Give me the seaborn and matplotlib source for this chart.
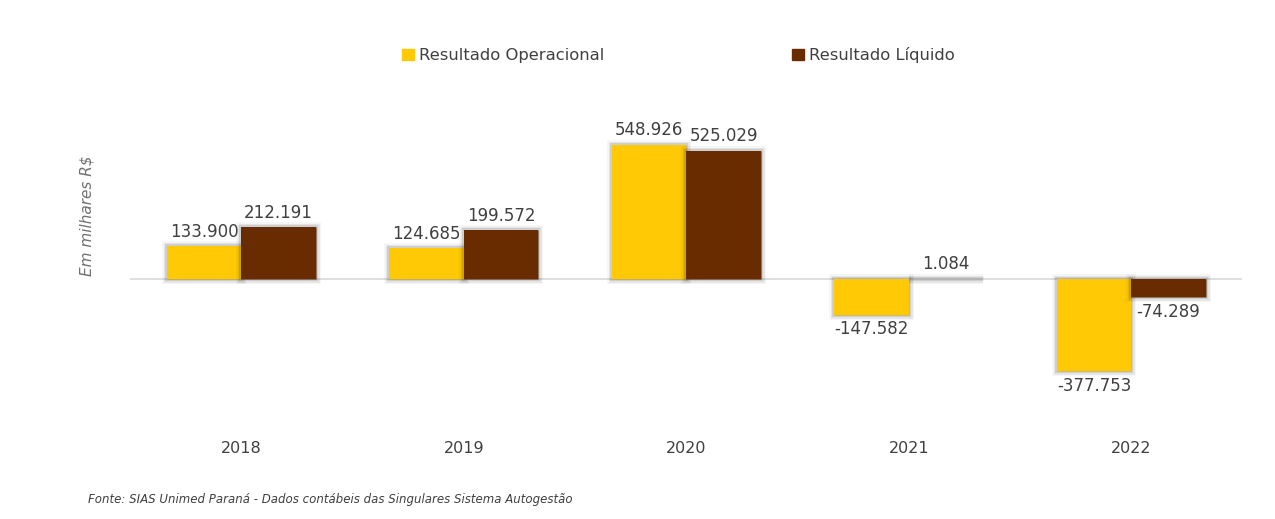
import pandas as pd
import matplotlib
matplotlib.use("Agg")
import matplotlib.pyplot as plt
import matplotlib.patheffects as pe
import seaborn as sns

anos = ["2018", "2019", "2020", "2021", "2022"]
operacional = [133900, 124685, 548926, -147582, -377753]
liquido = [212191, 199572, 525029, 1084, -74289]
series = ["Resultado Operacional", "Resultado Líquido"]
cores = ["#FFC905", "#692C00"]

df = pd.DataFrame({
    "Ano": anos * 2,
    "Valor": operacional + liquido,
    "Serie": [series[0]] * len(anos) + [series[1]] * len(anos),
})

sns.set_theme(style="white")
plt.rcParams["font.family"] = ["DejaVu Sans"]
texto = "#404040"

fig = plt.figure(figsize=(12.75, 5.19), dpi=100)
ax = fig.add_axes([0.102, 0.1715, 0.8725, 0.636])

sns.barplot(data=df, x="Ano", y="Valor", hue="Serie", palette=cores,
            width=0.67, gap=0, saturation=1, ax=ax, legend=False)

# sombra suave em volta das barras
sombra = [pe.Stroke(linewidth=7, foreground=(0, 0, 0, 0.04)),
          pe.Stroke(linewidth=5, foreground=(0, 0, 0, 0.06)),
          pe.Stroke(linewidth=3, foreground=(0, 0, 0, 0.10)),
          pe.Normal()]
for bar in ax.patches:
    bar.set_path_effects(sombra)
    bar.set_linewidth(0)

for cont in ax.containers:
    ax.bar_label(cont, labels=[f"{int(v):,}".replace(",", ".") for v in cont.datavalues],
                 padding=4, fontsize=12, color=texto)

ax.axhline(0, color="#D9D9D9", lw=1.2, zorder=0)
ax.set_xlim(-0.5, 4.5)
ax.set_ylim(-619000, 733000)
ax.set_yticks([])
ax.set_xlabel("")
ax.set_ylabel("Em milhares R$", fontsize=11, style="italic", color="#707070")
ax.yaxis.set_label_coords(-0.032, 0.65)
ax.tick_params(axis="x", length=0, pad=8, labelsize=11.5, labelcolor=texto)
for s in ax.spines.values():
    s.set_visible(False)

handles = [plt.Rectangle((0, 0), 1, 1, color=c) for c in cores]
fig.legend(handles, series, loc="center", bbox_to_anchor=(0.532, 0.894), ncol=2,
           frameon=False, fontsize=11.8, handlelength=0.7, handleheight=0.7,
           handletextpad=0.3, columnspacing=11.5, labelcolor=texto)

fig.text(0.069, 0.03, "Fonte: SIAS Unimed Paraná - Dados contábeis das Singulares Sistema Autogestão",
         fontsize=8.5, style="italic", color=texto)

fig.savefig("out.png", dpi=100)
